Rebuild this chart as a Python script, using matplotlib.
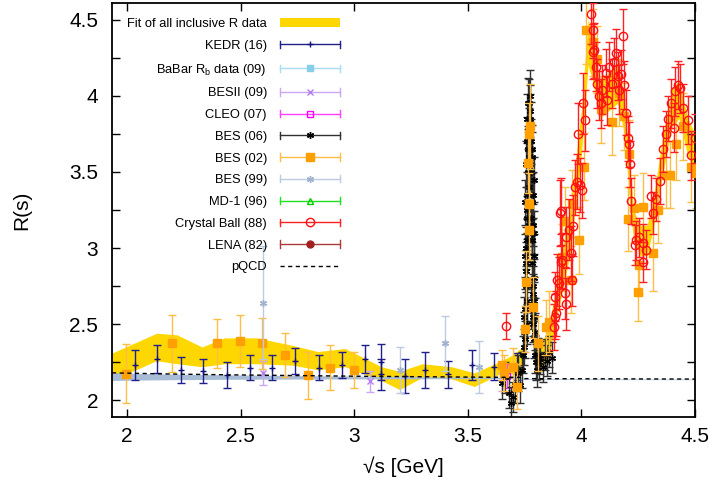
"""
R ratio in the 2 - 4.5 GeV region: inclusive measurements, fit band and pQCD.
"""
import numpy as np
import matplotlib
matplotlib.use("Agg")
from matplotlib import pyplot as plt
from matplotlib.legend_handler import HandlerBase
from matplotlib.container import ErrorbarContainer
from matplotlib.lines import Line2D

plt.rcParams['font.family'] = ['Liberation Sans', 'DejaVu Sans']

# ---- data ------------------------------------------------------------------
# fit of all inclusive R data (band)
fit_x  = [1.934, 2.13, 2.22, 2.33, 2.43, 2.57, 2.73, 2.84, 2.96, 3.12, 3.20, 3.30,
          3.43, 3.53, 3.65, 3.70, 3.74, 3.765, 3.773, 3.78, 3.79, 3.82, 3.86, 3.90,
          3.95, 4.00, 4.03, 4.05, 4.08, 4.12, 4.16, 4.19, 4.21, 4.23, 4.26, 4.29,
          4.32, 4.36, 4.40, 4.43, 4.47, 4.50]
fit_lo = [2.13, 2.26, 2.24, 2.22, 2.24, 2.24, 2.23, 2.20, 2.22, 2.13, 2.07, 2.15,
          2.14, 2.09, 2.18, 2.17, 2.16, 2.90, 3.50, 2.70, 2.25, 2.20, 2.30, 2.60,
          2.95, 3.60, 4.20, 4.10, 3.85, 3.90, 3.95, 3.75, 3.35, 3.05, 2.95, 2.95,
          3.15, 3.50, 3.80, 3.85, 3.60, 3.50]
fit_hi = [2.31, 2.44, 2.43, 2.35, 2.41, 2.41, 2.36, 2.32, 2.34, 2.22, 2.19, 2.24,
          2.22, 2.18, 2.26, 2.30, 2.35, 3.20, 3.80, 3.00, 2.40, 2.35, 2.50, 2.85,
          3.25, 3.90, 4.50, 4.40, 4.10, 4.15, 4.20, 4.00, 3.60, 3.25, 3.15, 3.15,
          3.35, 3.75, 4.05, 4.10, 3.85, 3.75]

# pQCD line and its uncertainty band
pqcd_x  = [1.934, 2.2, 2.5, 3.0, 3.5, 3.73, 3.75, 4.0, 4.5]
pqcd_y  = [2.180, 2.172, 2.166, 2.158, 2.152, 2.150, 2.142, 2.141, 2.139]
pqcd_lo = [2.130, 2.135, 2.138, 2.140, 2.142, 2.143, 2.136, 2.136, 2.135]
pqcd_hi = [2.180, 2.172, 2.166, 2.158, 2.152, 2.150, 2.142, 2.141, 2.139]

kedr_x = [2.034, 2.133, 2.236, 2.335, 2.44, 2.54, 2.64, 2.74, 2.847, 2.946,
          3.046, 3.117, 3.12, 3.223, 3.312, 3.415, 3.518, 3.615, 3.717]
kedr_y = [2.23, 2.27, 2.20, 2.19, 2.165, 2.215, 2.215, 2.26, 2.215, 2.23,
          2.27, 2.25, 2.17, 2.16, 2.20, 2.17, 2.23, 2.22, 2.22]
kedr_e = [0.10, 0.09, 0.085, 0.08, 0.085, 0.085, 0.085, 0.085, 0.08, 0.085,
          0.09, 0.12, 0.10, 0.11, 0.12, 0.09, 0.10, 0.09, 0.09]

# BaBar R_b scan (above 10.5 GeV, outside this window)
babar_x = [10.54, 10.62, 10.70, 10.80]
babar_y = [0.30, 0.33, 0.31, 0.32]
babar_e = [0.02, 0.02, 0.02, 0.02]

besii_x = [2.60, 3.07, 3.65]
besii_y = [2.18, 2.125, 2.12]
besii_e = [0.08, 0.07, 0.06]

cleo_x = [3.671]
cleo_y = [2.16]
cleo_e = [0.08]

bes06_x = [3.650, 3.665, 3.680, 3.690, 3.700, 3.710, 3.720, 3.730, 3.740, 3.745,
           3.750, 3.752, 3.755, 3.757, 3.759, 3.761, 3.763, 3.765, 3.767, 3.769,
           3.771, 3.773, 3.775, 3.777, 3.779, 3.781, 3.783, 3.785, 3.787, 3.789,
           3.791, 3.795, 3.800, 3.805, 3.810, 3.815, 3.820, 3.830, 3.840, 3.850,
           3.860, 3.870,
           3.750, 3.752, 3.753, 3.755, 3.756, 3.758, 3.759, 3.760, 3.762, 3.763,
           3.765, 3.766, 3.768, 3.770, 3.772, 3.774, 3.776, 3.778, 3.780, 3.782,
           3.784, 3.786, 3.787, 3.788, 3.789, 3.790, 3.791, 3.792, 3.794, 3.796,
           3.748, 3.754, 3.761, 3.769, 3.777, 3.785, 3.793, 3.798]
bes06_y = [2.11, 2.15, 2.05, 1.98, 2.02, 2.10, 2.18, 2.10, 2.20, 2.30,
           2.45, 2.60, 2.75, 2.90, 3.05, 3.20, 3.35, 3.50, 3.65, 3.80,
           3.95, 4.00, 3.85, 3.70, 3.50, 3.30, 3.10, 2.90, 2.70, 2.55,
           2.40, 2.30, 2.25, 2.20, 2.30, 2.25, 2.28, 2.22, 2.30, 2.26,
           2.32, 2.28,
           2.55, 2.40, 3.30, 2.85, 3.55, 3.00, 3.70, 3.25, 2.65, 3.85,
           3.10, 3.95, 3.40, 3.60, 3.75, 3.90, 3.55, 3.20, 3.80, 3.05,
           3.60, 2.75, 3.35, 2.50, 3.15, 2.95, 2.65, 3.45, 2.80, 2.55,
           2.35, 2.95, 2.50, 3.15, 2.60, 3.65, 3.10, 2.45]
bes06_e = [0.10, 0.10, 0.10, 0.11, 0.10, 0.12, 0.12, 0.12, 0.12, 0.12,
           0.13, 0.13, 0.13, 0.14, 0.14, 0.14, 0.15, 0.15, 0.15, 0.16,
           0.16, 0.17, 0.16, 0.15, 0.15, 0.15, 0.14, 0.14, 0.13, 0.13,
           0.12, 0.12, 0.12, 0.11, 0.11, 0.11, 0.11, 0.10, 0.10, 0.10,
           0.10, 0.10,
           0.13, 0.12, 0.15, 0.14, 0.15, 0.14, 0.16, 0.15, 0.13, 0.16,
           0.14, 0.17, 0.15, 0.16, 0.17, 0.17, 0.16, 0.15, 0.16, 0.14,
           0.16, 0.13, 0.15, 0.12, 0.14, 0.14, 0.13, 0.15, 0.13, 0.12,
           0.12, 0.14, 0.13, 0.14, 0.13, 0.16, 0.14, 0.12]

bes02_x = [1.996, 2.196, 2.396, 2.497, 2.595, 2.696, 2.798, 2.895, 2.999,
           3.651, 3.660, 3.699, 3.715, 3.751, 3.758, 3.771, 3.772, 3.766, 3.770,
           3.773, 3.788, 3.808, 3.845, 3.857, 3.916, 3.930, 3.953, 3.960, 3.990,
           4.010, 4.020, 4.050, 4.070, 4.086, 4.137, 4.167, 4.190, 4.204, 4.210,
           4.233, 4.250, 4.255, 4.270, 4.315, 4.340, 4.374, 4.389, 4.418, 4.450,
           4.484, 4.506]
bes02_y = [2.175, 2.373, 2.373, 2.39, 2.373, 2.296, 2.164, 2.215, 2.20,
           2.23, 2.18, 2.22, 2.09, 2.47, 2.78, 3.12, 3.29, 3.56, 3.75,
           3.80, 2.61, 2.375, 2.48, 2.515, 2.94, 3.18, 2.79, 3.29, 3.05,
           3.535, 4.43, 4.35, 4.24, 3.91, 3.83, 4.02, 3.865, 3.19, 3.62,
           3.26, 2.71, 2.89, 3.27, 2.965, 3.25, 3.48, 3.48, 3.68, 3.80,
           3.535, 3.49]
bes02_e = [0.195, 0.185, 0.16, 0.17, 0.17, 0.145, 0.155, 0.145, 0.12,
           0.10, 0.12, 0.12, 0.15, 0.15, 0.20, 0.20, 0.20, 0.20, 0.20,
           0.28, 0.20, 0.18, 0.18, 0.20, 0.22, 0.22, 0.22, 0.22, 0.22,
           0.22, 0.22, 0.22, 0.22, 0.22, 0.22, 0.22, 0.22, 0.21, 0.22,
           0.22, 0.19, 0.19, 0.22, 0.25, 0.22, 0.22, 0.22, 0.23, 0.22,
           0.23, 0.23]

bes99_x = [2.60, 3.20, 3.40, 3.55]
bes99_y = [2.64, 2.20, 2.375, 2.22]
bes99_e = [0.37, 0.15, 0.18, 0.17]

# MD-1 and LENA measured above 7 GeV (outside this window)
md1_x = [7.25, 7.75, 8.25]
md1_y = [3.58, 3.60, 3.56]
md1_e = [0.20, 0.20, 0.20]
lena_x = [7.44, 8.10, 8.80]
lena_y = [3.37, 3.50, 3.40]
lena_e = [0.20, 0.20, 0.20]

cb_x = [3.668, 3.879, 3.884, 3.885, 3.889, 3.894, 3.901, 3.906, 3.910, 3.913,
        3.916, 3.928, 3.931, 3.935, 3.946, 3.957, 3.960, 3.963, 3.971, 3.983,
        3.987, 3.993, 4.005, 4.009, 4.015, 4.041, 4.050, 4.052, 4.056, 4.065,
        4.070, 4.080, 4.086, 4.090, 4.107, 4.115, 4.120, 4.136, 4.144, 4.151,
        4.160, 4.167, 4.174, 4.182, 4.189, 4.197, 4.204, 4.211, 4.214, 4.218,
        4.235, 4.240, 4.255, 4.270, 4.273, 4.285, 4.307, 4.315, 4.329, 4.347,
        4.359, 4.374, 4.382, 4.393, 4.410, 4.411, 4.426, 4.436, 4.447, 4.469,
        4.484, 4.499]
cb_y = [2.49, 2.48, 2.55, 2.68, 2.57, 2.79, 2.77, 3.23, 2.91, 3.24,
        2.92, 2.705, 3.07, 2.63, 3.12, 2.965, 2.79, 3.147, 3.40, 3.436,
        3.75, 3.414, 3.38, 3.95, 3.84, 4.54, 4.29, 4.43, 4.30, 4.19,
        4.08, 4.00, 3.95, 4.04, 4.15, 3.97, 4.19, 4.08, 4.22, 4.28,
        4.13, 4.04, 4.14, 4.39, 4.07, 3.89, 3.72, 3.68, 3.55, 3.31,
        3.02, 3.05, 3.07, 3.03, 2.91, 2.99, 3.34, 3.23, 3.32, 3.44,
        3.65, 3.75, 3.85, 3.95, 3.79, 4.03, 4.07, 4.05, 3.92, 3.84,
        3.61, 3.72]
cb_e = [0.085, 0.15, 0.15, 0.16, 0.15, 0.17, 0.17, 0.22, 0.18, 0.22,
        0.18, 0.17, 0.2, 0.17, 0.2, 0.18, 0.17, 0.2, 0.18, 0.18,
        0.2, 0.18, 0.18, 0.2, 0.2, 0.2, 0.18, 0.18, 0.18, 0.16,
        0.16, 0.16, 0.16, 0.16, 0.16, 0.16, 0.16, 0.16, 0.16, 0.16,
        0.16, 0.16, 0.16, 0.18, 0.16, 0.15, 0.15, 0.15, 0.15, 0.15,
        0.13, 0.13, 0.13, 0.13, 0.13, 0.13, 0.14, 0.14, 0.14, 0.15,
        0.15, 0.15, 0.15, 0.16, 0.16, 0.16, 0.16, 0.16, 0.16, 0.16,
        0.16, 0.16]


# Legend entries drawn the gnuplot way: |---marker---|
class HandlerGnuplotBar(HandlerBase):
    def create_artists(self, legend, orig_handle, xdescent, ydescent,
                       width, height, fontsize, trans):
        data_line, caps, bars = orig_handle.lines
        ec = bars[0].get_edgecolor()[0]
        y = height / 2.0 - ydescent
        x0, x1 = -xdescent, width - xdescent
        arts = [Line2D([x0, x1], [y, y], color=ec, lw=1.0)]
        for xc in (x0, x1):
            arts.append(Line2D([xc, xc], [y - 2.6, y + 2.6], color=ec, lw=1.0))
        arts.append(Line2D([(x0 + x1) / 2.0], [y], ls='none',
                           marker=data_line.get_marker(),
                           ms=data_line.get_markersize(),
                           mfc=data_line.get_markerfacecolor(),
                           mec=data_line.get_markeredgecolor(),
                           mew=data_line.get_markeredgewidth()))
        for a in arts:
            a.set_transform(trans)
        return arts


fig = plt.figure(figsize=(7.09, 4.86), dpi=100)
ax = fig.add_axes([0.158, 0.142, 0.822, 0.852])

fit = ax.fill_between(fit_x, fit_lo, fit_hi, color='#ffd700', lw=0, zorder=1)
ax.fill_between(pqcd_x, pqcd_lo, pqcd_hi, color='#a9bcd6', lw=0, zorder=1.5)

asterisk = (6, 2, 0)
styles = [
    # x, y, err, label, marker, colour, errorbar colour, filled, size
    (kedr_x, kedr_y, kedr_e, 'KEDR (16)', '+', '#101080', '#20208c', True, 5),
    (babar_x, babar_y, babar_e, r'BaBar R$_\mathregular{b}$ data (09)', 's',
     '#87ceeb', '#a8dcf2', True, 5),
    (besii_x, besii_y, besii_e, 'BESII (09)', 'x', '#b57cf5', '#c9a6f7', True, 5),
    (cleo_x, cleo_y, cleo_e, 'CLEO (07)', 's', '#ff00ff', '#ff40ff', False, 5),
    (bes06_x, bes06_y, bes06_e, 'BES (06)', asterisk, '#000000', '#303030', True, 5),
    (bes02_x, bes02_y, bes02_e, 'BES (02)', 's', '#ffa000', '#ffbd45', True, 6),
    (bes99_x, bes99_y, bes99_e, 'BES (99)', asterisk, '#9fb2cf', '#bccbe0', True, 5),
    (md1_x, md1_y, md1_e, 'MD-1 (96)', '^', '#00d000', '#20e020', False, 5),
    (cb_x, cb_y, cb_e, 'Crystal Ball (88)', 'o', '#ff1010', '#ff2020', False, 6),
    (lena_x, lena_y, lena_e, 'LENA (82)', 'o', '#a02020', '#aa3a3a', True, 5),
]

handles, labels = [fit], ['Fit of all inclusive R data']
for i, (x, y, e, lab, mk, col, ecol, filled, ms) in enumerate(styles):
    eb = ax.errorbar(x, y, yerr=e, fmt='', marker=mk, ls='none', ms=ms,
                     color=col, ecolor=ecol,
                     mfc=col if filled else 'none', mec=col, mew=1.0,
                     elinewidth=1.0, capsize=2.6, capthick=1.0, zorder=2 + i * 0.1)
    handles.append(eb)
    labels.append(lab)

pq, = ax.plot(pqcd_x, pqcd_y, color='black', lw=1.0, dashes=(3, 2.5), zorder=5)
handles.append(pq)
labels.append('pQCD')

ax.set_xlim(1.934, 4.5)
ax.set_ylim(1.89, 4.61)
ax.set_xticks([2, 2.5, 3, 3.5, 4, 4.5])
ax.set_xticklabels(['2', '2.5', '3', '3.5', '4', '4.5'])
ax.set_yticks([2, 2.5, 3, 3.5, 4, 4.5])
ax.set_yticklabels(['2', '2.5', '3', '3.5', '4', '4.5'])
ax.set_yticks(np.arange(2.25, 4.5, 0.5), minor=True)
ax.tick_params(which='both', direction='in', top=True, right=True,
               length=5.5, width=1.0, labelsize=15)
ax.tick_params(axis='x', pad=7.5)
ax.tick_params(axis='y', pad=10)
for s in ax.spines.values():
    s.set_linewidth(1.3)

ax.set_xlabel('\u221as [GeV]', fontsize=15, labelpad=7.5)
ax.set_ylabel('R(s)', fontsize=15, labelpad=27)

ax.legend(handles, labels, loc='upper left', bbox_to_anchor=(0.026, 0.963),
          frameon=False, markerfirst=False, fontsize=9.3, handlelength=4.65,
          handletextpad=1.0, labelspacing=0.75, borderpad=0, borderaxespad=0,
          handler_map={ErrorbarContainer: HandlerGnuplotBar()})

plt.savefig('out.png', dpi=100)
